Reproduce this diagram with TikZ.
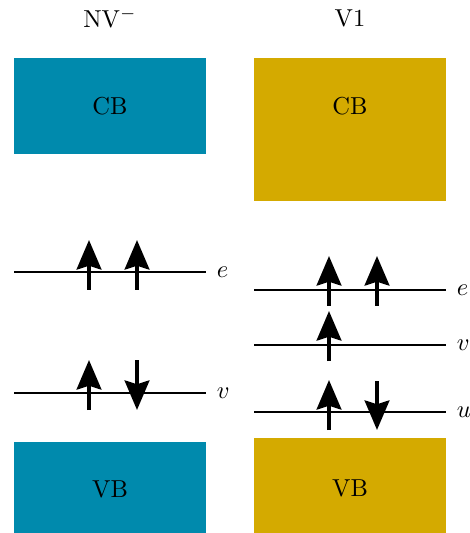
\documentclass[tikz,border=0pt]{standalone}
\usetikzlibrary{arrows.meta}
\definecolor{nvblue}{RGB}{0,138,173}
\definecolor{vgold}{RGB}{212,170,0}
\begin{document}
\begin{tikzpicture}[x=0.408pt,y=-0.408pt,
  band/.style={inner sep=0pt,outer sep=0pt},
  level/.style={line width=0.8pt},
  spin/.style={line width=1.8pt,-{Stealth[length=12pt,width=10pt,inset=1.5pt]}},
  lbl/.style={anchor=west,inner sep=0pt,font=\itshape}]
\useasboundingbox (0,0) rectangle (469,533);
% titles
\node (t1) at (110,18) {NV$^{-}$};
\node (t2) at (350,18) {V1};
% bands
\fill[nvblue] (14,58) rectangle (206,154);
\node (cb1) at (110,106) {CB};
\fill[nvblue] (14,442) rectangle (206,533);
\node (vb1) at (110,489) {VB};
\fill[vgold] (254,58) rectangle (446,201);
\node (cb2) at (350,106) {CB};
\fill[vgold] (254,438) rectangle (446,533);
\node (vb2) at (350,488) {VB};
% levels left
\coordinate (le1a) at (14,272); \coordinate (le1b) at (206,272);
\coordinate (lv1a) at (14,393); \coordinate (lv1b) at (206,393);
\draw[level] (le1a) -- (le1b) node[lbl,xshift=4pt] (le1) {$e$};
\draw[level] (lv1a) -- (lv1b) node[lbl,xshift=4pt] (lv1) {$v$};
% levels right
\coordinate (le2a) at (254,290); \coordinate (le2b) at (446,290);
\coordinate (lv2a) at (254,345); \coordinate (lv2b) at (446,345);
\coordinate (lu2a) at (254,412); \coordinate (lu2b) at (446,412);
\draw[level] (le2a) -- (le2b) node[lbl,xshift=4pt] (le2) {$e$};
\draw[level] (lv2a) -- (lv2b) node[lbl,xshift=4pt] (lv2) {$v$};
\draw[level] (lu2a) -- (lu2b) node[lbl,xshift=4pt] (lu2) {$u$};
% spins left
\coordinate (a1s) at (89,290); \coordinate (a1e) at (89,240);
\coordinate (a2s) at (137,290); \coordinate (a2e) at (137,240);
\coordinate (a3s) at (89,410); \coordinate (a3e) at (89,360);
\coordinate (a4s) at (137,360); \coordinate (a4e) at (137,410);
\draw[spin] (a1s) -- (a1e);
\draw[spin] (a2s) -- (a2e);
\draw[spin] (a3s) -- (a3e);
\draw[spin] (a4s) -- (a4e);
% spins right
\coordinate (b1s) at (329,306); \coordinate (b1e) at (329,256);
\coordinate (b2s) at (377,306); \coordinate (b2e) at (377,256);
\coordinate (b3s) at (329,361); \coordinate (b3e) at (329,311);
\coordinate (b4s) at (329,430); \coordinate (b4e) at (329,380);
\coordinate (b5s) at (377,381); \coordinate (b5e) at (377,430);
\draw[spin] (b1s) -- (b1e);
\draw[spin] (b2s) -- (b2e);
\draw[spin] (b3s) -- (b3e);
\draw[spin] (b4s) -- (b4e);
\draw[spin] (b5s) -- (b5e);
\end{tikzpicture}
\end{document}
